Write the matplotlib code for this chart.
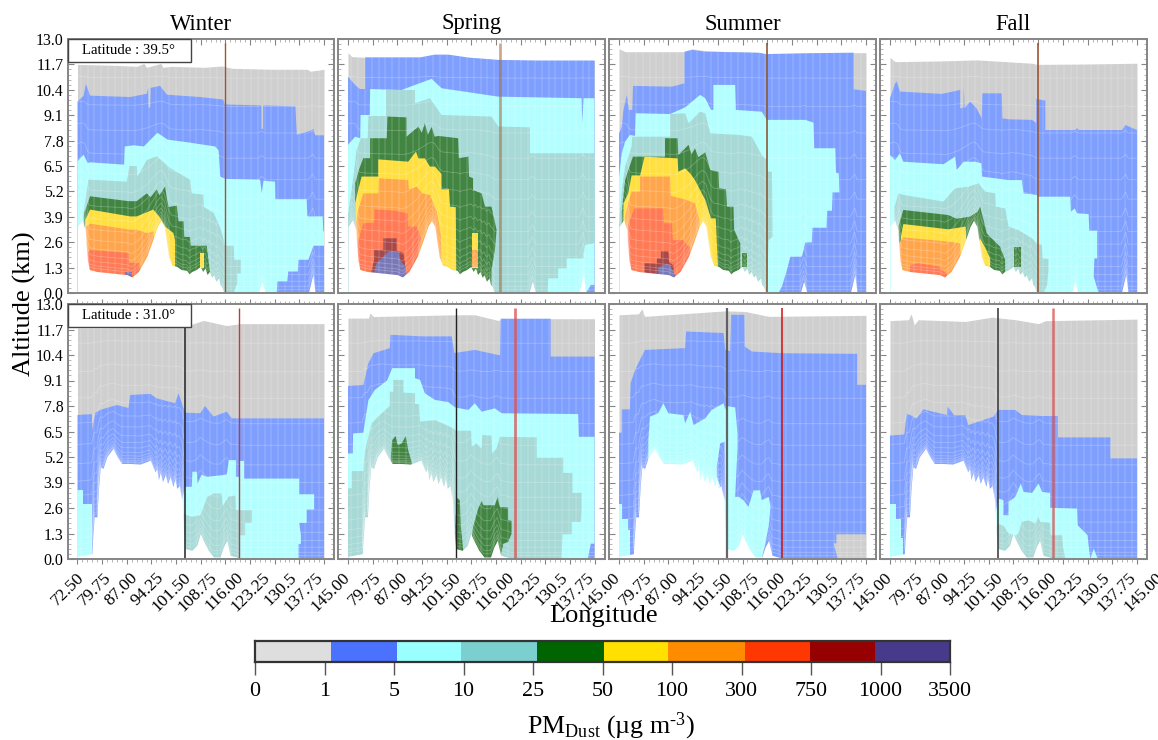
import numpy as np
import matplotlib
matplotlib.use("Agg")
import matplotlib.pyplot as plt
from matplotlib.patches import Rectangle

plt.rcParams['font.family'] = ['Liberation Serif', 'DejaVu Serif']
plt.rcParams['mathtext.fontset'] = 'custom'
plt.rcParams['mathtext.rm'] = 'Liberation Serif'
plt.rcParams['mathtext.it'] = 'Liberation Serif:italic'

SEASONS = ['Winter', 'Spring', 'Summer', 'Fall']
LON_TICKS = [72.5, 79.75, 87.0, 94.25, 101.5, 108.75, 116.0, 123.25, 130.5, 137.75, 145.0]
LON_LABELS = ['72.50', '79.75', '87.00', '94.25', '101.50', '108.75', '116.00', '123.25', '130.5', '137.75', '145.00']
ALT_TICKS = [0.0, 1.3, 2.6, 3.9, 5.2, 6.5, 7.8, 9.1, 10.4, 11.7, 13.0]
CB_LABELS = ['0', '1', '5', '10', '25', '50', '100', '300', '750', '1000', '3500']
CB_EDGES = [0, 1.09, 2.04, 2.96, 4.06, 5.02, 5.94, 7.05, 7.99, 8.92, 10]
CB_COLORS = ['#dedede', '#4a72ff', '#99ffff', '#7ccfcf', '#006400', '#ffe000', '#ff8c00', '#ff3700', '#960000', '#483a8a']
FADED = {'gray': '#cfcfcf', 'blue': '#7f9fff', 'cyan': '#b3ffff', 'teal': '#a7d9d6', 'green': '#428542',
         'yellow': '#ffe040', 'orange': '#ffa64d', 'red': '#ff7a55', 'dark': '#a84848', 'purple': '#7a78b8'}
LEVELS = [.17, .34, .6, .94, 1.36, 1.88, 2.5, 3.15, 3.9, 4.8, 5.8, 6.9, 8.19, 9.55, 11.0]

TERRAIN_39 = [(72.5,3.41),(73.8,3.75),(74.8,3.24),(75,2.56),(75.4,1.7),(76,1.2),(78.2,1.1),(87,.94),(88.5,.82),(90.4,1.1),
              (92.9,1.88),(95,2.9),(96,3.41),(97,3.72),(98,3.41),(99.3,1.88),(100.3,1.42),(101.7,1.36),(103,1.2),(104.6,1.16),
              (105.3,.98),(106.1,1.1),(107.4,1.2),(108.6,1.36),(109.3,1.1),(110,1.28),(110.6,.95),(111.3,1.1),(112,.8),(112.5,.94),(113.2,.6),(114,.77),(114.4,.45),(114.9,.34),(115.6,0),(125.7,0),
              (126.7,.6),(127.7,0),(140.4,0),(141.7,.94),(142.4,0),(145,0)]
TERRAIN_31 = [(72.5,.14),(76.7,.27),(76.9,.95),(77.4,2.15),(78.2,2.15),(78.7,3.68),(79.2,4.7),(80,4.62),(81.1,5.21),
              (82.9,5.64),(84.2,5.21),(85.5,4.87),(88,4.87),(90.9,4.84),(93.9,5.04),(94.7,4.7),(95.3,4.45),(95.8,4.6),(96.3,4.05),(96.8,4.4),(97.5,3.95),(98.3,4.3),
              (99,3.85),(99.7,4.2),(100.6,3.7),(101.1,4.1),(101.7,3.6),(102.4,3.75),(103.2,3),(103.7,1.3),(104.2,.53),(106.1,.44),(107.6,.7),(108.6,1.3),(109.5,.95),
              (111,.44),(112.5,.1),(114.4,.1),(115.4,.61),(116.4,.95),(117.4,.19),(119.3,.1),(120.3,0),(145,0)]

# ---------- Winter, 39.5N ----------
W39_TOP = [(72.5,11.7),(84,11.65),(90,11.6),(92,11.75),(92.8,11.55),(95,11.65),(97,11.75),(97.6,11.55),(100,11.6),(110,11.55),(115,11.62),(118,11.5),(130,11.45),(140,11.45),(141,11.35),(145,11.45)]
W39_BLUE = [(72.5,9.8),(74.3,10.1),(75,10.7),(76.2,10.1),(88,10.03),(92.9,10.2),(93.3,10.5),(93.4,9.5),(93.9,9.5),(94,10.5),(96.8,10.6),(98.8,10.15),(108.6,10.03),
            (115.4,9.9),(115.8,9.65),(126.6,9.6),(126.6,8.4),(127.1,8.4),(127.1,9.6),(136.6,9.55),(137,8.1),(140.9,8.3),(141.9,8.4),(142.4,8.07),(145,8.07),(145,0),(72.5,0)]
W39_CYAN = [(72.5,6.74),(74.3,7.08),(75.5,6.65),(76.2,6.69),(86.2,6.57),(86.4,7.5),(89,7.56),(92,7.5),(96,8.2),(99,7.85),(105,7.71),(113,7.5),(114,7.3),
            (114.5,5.95),(116,5.84),(126.2,5.8),(126.7,5.12),(127.2,5.75),(130.6,5.7),(130.7,4.8),(139.9,4.8),(140.1,3.92),(144.6,3.92),(144.8,3.15),(145,3.15),
            (145,2.42),(141.9,2.42),(140.4,1.7),(137.5,1.7),(137.3,1.1),(134.5,1.1),(134.2,.6),(131.3,.6),(131.1,0),(72.5,0)]
W39_TEAL = [(74.1,3.9),(75.7,5.8),(87,5.7),(87.8,6.5),(89.9,6.5),(90.1,5.95),(92.9,6.8),(95.8,7),(99.7,6.4),(105.6,5.8),(106.1,5.1),(109.5,5.03),(109.7,4.4),
            (112.5,4.1),(114.4,3.4),(115.6,2.65),(115.8,2.42),(118.4,2.42),(118.6,1.7),(120.5,1.7),(120.5,1),(119.5,1),(119.5,.5),(118.4,0),(74.1,0)]
W39_GREEN = [(74.5,4.1),(76.2,4.95),(87.5,4.7),(89.9,4.7),(92.9,5.1),(94,4.9),(95.8,5.3),(96.6,5),(98.3,5.46),(98.8,4.8),(99.3,4.4),(101.7,4.47),(102.2,3.67),(103.7,3.67),
             (103.9,2.87),(105.6,2.87),(105.8,2.42),(110.5,2.42),(111,1.7),(111.5,1.1),(111.5,0),(74.5,0)]
W39_YELLOW = [(74.8,3.75),(76.2,4.27),(88,3.92),(89.9,3.92),(94.8,4.27),(96.6,3.9),(98.3,3.4),(100.7,3.07),(101.2,2.7),(101.2,0),(74.8,0)]
W39_YELLOW2 = [(108.6,2.05),(109.7,2.05),(109.7,1.3),(108.6,1.3)]
W39_ORANGE = [(75,3.4),(76.2,3.55),(88,3.24),(89.9,3.24),(92.9,3.07),(95,3.15),(95,0),(75,0)]
W39_RED = [(75.4,2.05),(76.2,2.2),(87.5,2.05),(87.7,1.54),(90.7,1.54),(91,1),(91,0),(75.4,0)]
W39_PURPLE = [(86.5,1.1),(88.5,1.1),(88.5,0),(86.5,0)]

# ---------- Spring, 39.5N ----------
S39_TOP = [(72.5,12.3),(73.6,12.1),(77.5,12.06),(93.7,12.06),(98,12.2),(102,12.2),(107.9,12.05),(116.7,11.93),(128,11.9),(145,11.9)]
S39_BLUE = [(72.5,11.07),(74.6,10.65),(76,10.44),(77.5,10.44),(77.5,12.06),(93.7,12.06),(98,12.2),(102,12.2),(107.9,12.05),(116.7,11.93),(128,11.9),(145,11.9),(145,0),(72.5,0)]
S39_CYAN = [(72.5,7.58),(74.6,8),(76.1,7.92),(76.2,9.11),(78.9,9.11),(79,10.44),(88.3,10.39),(92.2,10.65),(97.1,10.96),(100,10.48),(116.7,10.05),(141.2,9.97),
            (141.4,8.69),(141.8,9.97),(145,9.97),(145,.41),(143.9,.41),(142.5,0),(72.5,0)]
S39_TEAL = [(72.5,3.99),(74.1,5.96),(75,7.32),(76.3,7.92),(78.3,7.92),(78.5,9.06),(83.7,9.06),(83.7,10.39),(92.2,10.39),(92.2,9.71),(96.6,9.97),(100,9.11),(114.7,9.03),
            (116.7,8.52),(126,8.48),(126,7.15),(145,7.15),(145,2.54),(142.2,2.46),(141.7,1.77),(136.8,1.77),(136.8,1.26),(134.3,1.26),(134.3,.75),(131.4,.75),(131.2,0),(72.5,0)]
S39_GREEN = [(74.6,5.6),(75.7,6.3),(77,6.9),(79,6.9),(79,7.92),(83.9,7.92),(84.1,9.03),(89.7,8.99),(89.7,8),(93.2,8.52),(94.2,8.2),(95.1,8.69),(96,8.1),(97.1,8.5),(98,8),(99.1,8.04),(104.9,7.92),
             (105.1,6.9),(107.9,6.98),(108.1,5.96),(109.3,5.87),(109.3,5.27),(111.8,5.1),(112.8,4.42),(114.7,4.42),(116.2,3.23),(115.7,2.2),(114.7,1.18),(114.7,0),(74.6,0)]
S39_YELLOW = [(74.6,4.59),(75.5,5.27),(76.5,5.96),(81.4,5.96),(81.4,6.84),(90.2,6.72),(92.5,7.24),(93.2,6.89),(95.1,6.89),(96.6,6.47),(98.1,6.47),(100,6.09),(100,5.31),
              (102.2,5.31),(102.5,4.42),(104.2,4.39),(104.4,0),(74.6,0)]
S39_YELLOW2 = [(108.9,3.09),(110.8,3.09),(110.8,1.26),(108.9,1.26)]
S39_ORANGE = [(74.8,3.57),(75.5,4.25),(77,5.1),(81.4,5.1),(81.6,5.87),(90.2,5.78),(90.4,5.31),(92.7,5.44),(94.4,5.1),(96.6,5.02),(98.6,4.16),(99.8,3.05),(100.2,0),(74.8,0)]
S39_ORANGE2 = [(109.1,2.2),(110.6,2.2),(110.6,1.35),(109.1,1.35)]
S39_RED = [(75.3,2.54),(77,3.57),(80.2,3.6),(80.3,4.28),(86.3,4.21),(90,4.08),(90.1,3.4),(92.7,3.4),(94,2.8),(93.2,2.03),(92.2,1.52),(90.7,0),(75.3,0)]
S39_DARK = [(79.3,1.09),(80.2,1.7),(80.2,2.2),(82.9,2.2),(82.9,2.8),(86.8,2.8),(86.8,2.17),(88.8,2.06),(89.8,.84),(79.3,0)]
S39_PURPLE = [(80.2,1.09),(80.9,1.52),(82.4,1.77),(84.4,2.12),(87.3,2.12),(87.8,1.69),(89.3,1.35),(90,.75),(90,0),(80.2,0)]

# ---------- Summer, 39.5N ----------
U39_TOP = [(72.5,12.5),(74.3,12.35),(91.9,12.35),(93.9,12.5),(97.8,12.4),(113.5,12.3),(115.6,12.23),(127.2,12.27),(141.4,12.3),(145,12.3)]
U39_BLUE = [(72.5,8.17),(73.3,8.5),(73.8,9.37),(74.8,10.14),(75.4,9.37),(76.4,9.37),(76.6,10.6),(88,10.56),(91.7,10.73),(91.7,12.35),(93.9,12.44),(97.8,12.35),
            (113.5,12.3),(115.6,12.23),(127.2,12.27),(141.4,12.3),(141.4,10.43),(145,10.34),(145,0),(72.5,0)]
U39_CYAN = [(72.5,5.96),(73.3,7.15),(74.3,7.75),(75.7,8.09),(77.2,8.04),(77.4,9.2),(87.5,9.16),(91.9,9.5),(96.3,10.14),(97.8,9.97),(99.5,9.37),(100.2,9.37),(100.2,10.65),
            (106.6,10.65),(106.8,9.37),(114.4,9.28),(115.9,8.86),(127.2,8.86),(129.6,8.72),(129.8,7.41),(136,7.41),(136.2,6.16),(137,6.13),(137.2,5.15),(135.2,5.15),
            (135,4.21),(133.6,4.21),(133.4,3.34),(129.3,3.34),(129.1,2.59),(127.2,2.59),(126.2,1.86),(122.8,1.86),(121.8,1.18),(120.3,.32),(119.3,0),(72.5,0)]
U39_TEAL = [(72.5,3.48),(73.3,5.27),(74.3,6.47),(76.2,7.5),(76.4,8),(87.5,8),(87.5,9.16),(91.9,9.2),(92.9,8.69),(96.3,9.28),(97.8,9.2),(99.3,8.17),(107.6,8.09),(111.5,8),
            (114.4,7.06),(115.9,6.81),(116.1,6.21),(117.4,6.21),(117.6,2.88),(116.4,2.71),(115.9,0),(72.5,0)]
U39_GREEN = [(73.3,4.16),(74.3,5.78),(75.4,6.38),(76.6,6.98),(86,6.98),(86,7.92),(89.7,7.92),(89.9,7.06),(92.9,7.58),(93.8,7.1),(94.8,7.4),(95.8,6.95),(97.8,7.2),(99.3,6.3),(101.7,6.21),
             (101.9,5.36),(103.9,5.31),(104.2,4.42),(106.1,4.42),(106.3,3.23),(108.1,2.54),(108.1,0),(73.3,0)]
U39_GREEN2 = [(108.6,2.06),(110,2.06),(110,1.35),(108.6,1.35)]
U39_YELLOW = [(73.8,4.59),(75.2,5.1),(76.2,6.02),(78.7,6.02),(80,6.98),(89.7,6.89),(89.9,6.21),(91.9,6.38),(93.4,6.12),(94.8,5.78),(97.8,4.76),(99.5,3.82),(100.9,3.82),
              (101.5,1.52),(101.5,0),(73.8,0)]
U39_ORANGE = [(74.3,3.91),(75.2,4.6),(76.2,5.19),(78.7,5.19),(78.7,5.96),(87.5,5.96),(87.7,4.97),(92.4,4.76),(94.8,4.59),(96.1,3.74),(96.1,0),(74.3,0)]
U39_RED = [(75,3.4),(77,4.33),(85.5,4.33),(85.7,3.57),(88,3.57),(88.3,2.71),(91.4,2.71),(92.4,2.46),(93.4,2.37),(93.4,0),(75,0)]
U39_DARK = [(80,1.52),(83.6,1.52),(83.6,1.77),(84.8,1.77),(84.8,2.15),(87,2.15),(87.2,1.6),(88.5,1.4),(88.5,0),(80,0)]
U39_PURPLE = [(84,1.3),(86.5,1.5),(87.5,1.4),(89,.9),(89,0),(84,0)]

# ---------- Fall, 39.5N ----------
F39_TOP = [(72.5,12.06),(74,11.84),(88,11.88),(98,11.93),(114.2,11.76),(115.6,11.7),(130,11.72),(145,11.76)]
F39_BLUE = [(72.5,9.97),(74,10.73),(74.5,10.82),(75.4,10.31),(87.7,10.19),(93.1,10.39),(93.1,9.45),(94.1,9.5),(94.1,10.6),(94.4,9.45),(96,9.8),(97.9,9.45),(99.4,8.94),
            (99.6,10.22),(105.3,10.22),(105.5,8.94),(107.3,8.89),(114.2,8.86),(115.4,8.7),(115.4,9.93),(118.1,9.85),(118.1,8.34),(126.9,8.34),(127.4,8.45),(127.9,8.34),
            (140.6,8.34),(141.6,8.6),(145,8.34),(145,0),(72.5,0)]
F39_CYAN = [(72.5,7.06),(74,6.81),(75.4,7.15),(76.4,6.72),(88.2,6.59),(91.6,6.98),(92.1,6.3),(94.1,6.72),(97.5,6.72),(99.3,6.64),(99.5,5.96),(107.3,5.78),(111.2,5.78),
            (111.7,5.1),(115.6,5.02),(115.8,4.93),(125.4,4.93),(125.6,4.16),(126.7,4.33),(127.4,4.08),(130.8,4.04),(131,3.19),(133.3,3.19),(133.3,1.77),(132.5,1.77),
            (132.3,.84),(133.3,.24),(133.8,0),(72.5,0)]
F39_TEAL = [(73.8,4.42),(75,5.1),(76.4,5.02),(88.2,4.68),(91.6,5.36),(95.5,5.44),(98.5,5.61),(100.4,5.19),(103.4,5.1),(103.6,4.42),(106.3,4.33),(107.3,3.4),(110.2,3.23),
            (114.2,2.8),(115.6,2.54),(117.1,2.46),(117.3,1.77),(119,1.74),(119,1.18),(118.6,.41),(117.6,0),(73.8,0)]
F39_GREEN = [(74.95,3.4),(76.4,4.25),(89.6,3.99),(92.1,3.8),(96,3.91),(98.2,4.16),(99,4.42),(100.9,3.05),(104.8,2.37),(106.3,1.69),(106.3,0),(74.95,0)]
F39_GREEN2 = [(108.8,2.37),(110.9,2.37),(110.9,1.35),(108.8,1.35)]
F39_YELLOW = [(75.7,2.88),(76.4,3.53),(89.6,3.26),(94.7,3.4),(95,2.5),(98.5,2.5),(98.9,2.8),(100.4,2.35),(101.9,1.77),(101.9,0),(75.7,0)]
F39_ORANGE = [(75.1,2.54),(76.4,2.85),(89.6,2.63),(93.1,2.54),(93.5,1),(93.5,0),(75.1,0)]
F39_RED = [(78.4,1.43),(80.8,1.52),(86.7,1.35),(89.2,1),(89.5,0),(78.4,0)]

# ---------- Winter, 31N ----------
W31_TOP = [(72.5,11.77),(79.2,11.77),(104,11.85),(109.5,12.16),(116.4,11.9),(120.3,12),(145,12)]
W31_BLUE = [(72.5,7.34),(76.7,7.39),(76.9,6.58),(77.7,7.45),(79.2,7.6),(84,7.85),(87.5,7.7),(88,8.36),(93.9,8.42),(95.8,8.19),(101.2,7.94),(102.2,8.45),(103.7,7.68),
            (104.2,7.46),(108.6,7.43),(110,7.8),(112.5,7.26),(116.4,7.51),(117.9,7.17),(145,7.17),(145,0),(72.5,0)]
W31_CYAN = [(72.5,3.51),(74,3.51),(74,2.79),(76.7,2.79),(76.7,0),(72.5,0)]
W31_CYAN2 = [(103.2,3),(104.2,3.68),(106.1,3.68),(106.3,4.45),(107.6,4.45),(107.8,3.85),(109,4.3),(110.5,4.19),(116.4,4.3),(117,5.04),(119.1,5.04),(119.1,4.19),(120.1,4.19),
             (120.1,5),(121.5,5),(121.5,4.1),(137.7,4.1),(137.7,3.3),(142.1,3.3),(142.1,2.52),(139.9,2.52),(139.9,1.84),(137.7,1.84),(138.2,1.21),(138.2,.78),(137.5,.75),(137.5,0),(103.2,0)]
W31_TEAL = [(103.7,2.32),(106.1,2.15),(108.6,2.23),(110.7,3.17),(112.5,3.34),(114.9,3.34),(115.2,2.7),(116.9,3.17),(118.9,3.25),(119.1,2.49),(123.8,2.49),(123.8,1.84),
            (121.8,1.84),(121.8,1.21),(120.3,1.21),(120.3,0),(103.7,0)]

# ---------- Spring, 31N ----------
S31_TOP = [(72.5,12.28),(78.5,12.28),(79,12.54),(80,12.36),(104,12.45),(109.8,12.45),(116.7,12.16),(117.7,12.25),(145,12.25)]
S31_BLUE = [(72.5,8.82),(77,8.87),(78.5,9.98),(80,10.49),(84.8,10.75),(85,11.43),(94.2,11.35),(103,11.35),(103.8,10.5),(109.8,10.66),(116.7,10.4),(117.2,10.4),(117.4,12.25),
            (132.1,12.25),(132.1,10.32),(145,10.32),(145,0),(72.5,0)]
S31_CYAN = [(72.5,5.38),(73.9,5.38),(74,6.4),(77,6.44),(78.5,8.1),(80.4,8.62),(84,9.1),(85.5,9.73),(92.2,9.73),(92.2,9.22),(93.7,9.13),(95.1,8.45),(98.1,8.11),(102,8),(104,7.73),
            (107.9,7.6),(109.8,7.94),(111.8,7.51),(115.7,7.68),(117.7,7.43),(140.2,7.39),(140.4,6.23),(145,6.23),(145,.78),(143.9,.78),(143,0),(72.5,0)]
S31_TEAL = [(72.5,3.59),(73.6,3.62),(73.6,4.48),(77,4.48),(77.5,5.55),(79.5,6.92),(82.4,7.43),(84.8,7.8),(84.8,8.53),(85.8,8.53),(85.8,9.13),(88.8,9.13),(88.8,8.48),(92.2,8.45),
            (92.2,7.9),(93.4,7.9),(93.7,7),(98.1,7.09),(103.5,6.66),(104.2,6.54),(108.7,6.54),(108.9,5.72),(110.3,5.89),(111.8,5.62),(112,6.32),(114.7,6.29),(114.9,5.38),(116.2,5.64),
            (117.2,6.23),(128,6.2),(128,5.16),(135.8,5.16),(135.8,4.39),(138.5,4.39),(138.5,3.37),(141.2,3.37),(141.2,2.57),(141,1.89),(138.3,1.89),(138.3,1.26),(135.6,1.26),(135.3,0),(72.5,0)]
S31_GREEN = [(85.1,5.21),(85.5,6.06),(86.5,6.27),(87.1,5.81),(88.3,5.89),(89.5,6.27),(90.2,5.55),(91.2,4.96),(91.2,0),(85.1,0)]
S31_GREEN2 = [(104,1.64),(104.5,3.13),(105.4,3),(105.7,1.64),(106.4,.44),(106.4,0),(104,0)]
S31_GREEN3 = [(108.4,.44),(109.3,1.64),(110.8,2.57),(111.8,2.96),(112.3,2.74),(115.7,2.74),(116.5,3.17),(117.2,2.66),(119.6,2.62),(119.6,1.98),(120.6,1.94),(120.6,1.29),(119.6,.87),(118.2,.78),(117.2,0),(108.4,0)]

# ---------- Summer, 31N ----------
U31_TOP = [(72.5,12.45),(78.2,12.5),(79.2,12.75),(80,12.37),(103.7,12.65),(109.5,12.62),(116.4,12.37),(145,12.42)]
U31_BLUE = [(72.5,6.44),(73.3,6.44),(73.3,7.63),(75.7,7.63),(75.9,8.96),(77.2,9.64),(80.1,10.66),(91.9,10.75),(92.2,11.6),(103.2,11.52),(103.7,10.66),(105.1,10.6),(105.4,12.45),
            (109.3,12.45),(109.4,10.83),(111.5,10.58),(120.3,10.49),(142.4,10.46),(142.4,8.88),(145,8.88),(145,0),(72.5,0)]
U31_GRAY2 = [(136.3,1.26),(145,1.26),(145,0),(136.7,0),(135.5,.8),(136.3,.8)]
U31_CYAN = [(72.5,2.79),(73.3,2.79),(73.3,2.06),(75.2,2.06),(75.2,1.47),(75.7,1.47),(75.7,0),(72.5,0)]
U31_CYAN2 = [(81.1,6.06),(81.6,7.26),(84,7.43),(85.5,7.94),(87,7.43),(91.4,7.34),(91.9,6.92),(93.4,7.51),(94.4,6.83),(97.8,7.17),(99.7,7.6),(103.2,7.94),(103.7,7.6),(103.9,7.8),
             (106.6,7.73),(107.3,6.4),(107.3,5.7),(106.6,3.17),(107.6,3.17),(109,3),(110.5,2.66),(112,3.5),(113.9,3.5),(114.4,3),(116.4,3.17),(117,2.66),(116.4,1.64),(115.4,.78),(114.4,0),(81.1,0)]
U31_BLUE2 = [(101.2,4.7),(102.2,5.89),(103.5,5.98),(103.7,3),(101.2,4.2)]

# ---------- Fall, 31N ----------
F31_TOP = [(72.5,12.15),(77.9,12.2),(78.7,12.5),(79.6,11.94),(80.8,12.2),(94.6,12.11),(102.4,12.33),(109.3,12.2),(116.1,12),(118.1,12.15),(145,12.23)]
F31_BLUE = [(72.5,6.29),(76.7,6.35),(77.4,7.43),(80.3,7.17),(82.3,7.63),(89.2,7.34),(89.4,7.77),(91.3,7.34),(94.6,7.34),(95.5,6.83),(102.9,7.26),(104.2,7.6),(109.3,7.6),(111.2,7.34),
            (117.1,7.29),(121.8,7.29),(121.8,6.2),(137.2,6.2),(137.2,5.13),(145,5.13),(145,0),(72.5,0)]
F31_CYAN = [(72.5,2.79),(74.2,2.79),(74.2,2.06),(75.7,2.06),(75.7,1.09),(76.4,1.09),(76.4,0),(72.5,0)]
F31_CYAN2 = [(103.4,2.32),(104.4,3.08),(105.8,3),(105.8,2.23),(107.3,2.23),(107.3,2.91),(109.3,3.17),(110.9,3.85),(111.7,3.42),(114.2,3.37),(116.1,3.85),(117.1,3.42),(119.5,3.37),
             (119.5,2.61),(127.4,2.57),(127.6,1.72),(130.5,1.21),(130.8,.7),(131.3,0),(103.4,0)]
F31_CYAN3 = [(131.3,0),(132.3,.53),(133.5,0)]
F31_TEAL = [(103.6,1.64),(104.4,1.8),(105.8,1.7),(107.3,1.3),(109.3,1.2),(110.2,1.3),(111.2,1.89),(113.2,1.98),(115.1,1.8),(116.1,2.15),(116.6,1.89),(119.5,1.84),(119.7,1.21),
            (123,1.21),(123.3,.61),(124,0),(103.6,0)]

ROW_39 = [
    (W39_TOP, [('blue',W39_BLUE),('cyan',W39_CYAN),('teal',W39_TEAL),('green',W39_GREEN),('yellow',W39_YELLOW),('yellow',W39_YELLOW2),('orange',W39_ORANGE),('red',W39_RED),('purple',W39_PURPLE)]),
    (S39_TOP, [('blue',S39_BLUE),('cyan',S39_CYAN),('teal',S39_TEAL),('green',S39_GREEN),('yellow',S39_YELLOW),('yellow',S39_YELLOW2),('orange',S39_ORANGE),('orange',S39_ORANGE2),('red',S39_RED),('dark',S39_DARK),('purple',S39_PURPLE)]),
    (U39_TOP, [('blue',U39_BLUE),('cyan',U39_CYAN),('teal',U39_TEAL),('green',U39_GREEN),('green',U39_GREEN2),('yellow',U39_YELLOW),('orange',U39_ORANGE),('red',U39_RED),('dark',U39_DARK),('purple',U39_PURPLE)]),
    (F39_TOP, [('blue',F39_BLUE),('cyan',F39_CYAN),('teal',F39_TEAL),('green',F39_GREEN),('green',F39_GREEN2),('yellow',F39_YELLOW),('orange',F39_ORANGE),('red',F39_RED)]),
]
ROW_31 = [
    (W31_TOP, [('blue',W31_BLUE),('cyan',W31_CYAN),('cyan',W31_CYAN2),('teal',W31_TEAL)]),
    (S31_TOP, [('blue',S31_BLUE),('cyan',S31_CYAN),('teal',S31_TEAL),('green',S31_GREEN),('green',S31_GREEN2),('green',S31_GREEN3)]),
    (U31_TOP, [('blue',U31_BLUE),('gray',U31_GRAY2),('cyan',U31_CYAN),('cyan',U31_CYAN2),('blue',U31_BLUE2)]),
    (F31_TOP, [('blue',F31_BLUE),('cyan',F31_CYAN),('cyan',F31_CYAN2),('cyan',F31_CYAN3),('teal',F31_TEAL)]),
]
# marker longitudes: (lon, colour, width, alpha)
MARKS_39 = [[(115.8,'#a0562d',1.0,1)], [(117.1,'#a5622f',2.0,.55)], [(115.9,'#8a5a35',1.2,1)], [(115.8,'#a0562d',1.2,1)]]
MARKS_31 = [[(104.25,'#222222',1.1,1),(120.1,'#c03c3c',1.0,1)],
            [(104.3,'#222222',1.0,1),(121.6,'#d94f4f',2.0,.75)],
            [(104.25,'#555555',1.6,.9),(120.2,'#d01010',1.1,1)],
            [(104.3,'#333333',1.1,1),(120.3,'#d94f4f',1.8,.75)]]

W, H = 1158, 740
fig = plt.figure(figsize=(W/100, H/100), dpi=100)
X_PX = [(67.5, 334), (338, 604.5), (609, 876), (880, 1147)]
Y_PX = [(39, 293), (304, 559)]
GRAY = '#858585'


def px_axes(x0, x1, y0, y1):
    return fig.add_axes([x0/W, 1-y1/H, (x1-x0)/W, (y1-y0)/H])


def draw_panel(ax, top, layers, terrain, marks):
    tx, ty = map(np.array, zip(*top))
    gx, gy = map(np.array, zip(*terrain))
    ax.fill_between(tx, 0, ty, color=FADED['gray'], lw=0, zorder=1)
    for key, pts in layers:
        xs, ys = zip(*pts)
        ax.fill(xs, ys, color=FADED[key], lw=0, zorder=2)
    # model-layer lines and column stripes that show through the shading
    grid = np.unique(np.r_[gx, tx])
    tg = np.interp(grid, gx, gy)
    for h in LEVELS:
        ax.plot(grid, h + tg*(1-h/13.0)**2, color='white', lw=.6, alpha=.24, zorder=3)
    stripes = np.arange(73.5, 145, 2.0)
    ax.vlines(stripes, 0, np.interp(stripes, tx, ty), color='white', lw=1.2, alpha=.13, zorder=3)
    ax.fill_between(gx, -0.1, gy, color='white', lw=0, zorder=4)
    for lon, c, lw, a in marks:
        ax.plot([lon, lon], [0, 12.8], color=c, lw=lw, alpha=a, zorder=5, solid_capstyle='butt')
    ax.set_xlim(69.56, 147.94)
    ax.set_ylim(0, 13)
    for s in ax.spines.values():
        s.set_color(GRAY)
        s.set_linewidth(1.4)
        s.set_zorder(8)


for r, (row, terrain, marks_row) in enumerate([(ROW_39, TERRAIN_39, MARKS_39), (ROW_31, TERRAIN_31, MARKS_31)]):
    y0, y1 = Y_PX[r]
    for c, (top, layers) in enumerate(row):
        x0, x1 = X_PX[c]
        ax = px_axes(x0, x1, y0, y1)
        draw_panel(ax, top, layers, terrain, marks_row[c])
        ax.set_yticks(ALT_TICKS)
        ax.set_yticks(np.arange(0, 13.01, .26), minor=True)
        ax.set_xticks(LON_TICKS)
        ax.set_xticks(np.arange(72.5, 145.01, 1.45), minor=True)
        ax.tick_params(axis='y', which='major', direction='in', left=True, right=True, length=4.5, width=.8, color=GRAY, pad=3, labelsize=11.4)
        ax.tick_params(axis='y', which='minor', direction='in', left=True, right=True, length=2.5, width=.6, color='#aaaaaa')
        if r == 0:
            ax.tick_params(axis='x', which='major', direction='in', top=True, bottom=False, length=4, width=.8, color=GRAY, labelbottom=False)
            ax.tick_params(axis='x', which='minor', direction='in', top=True, bottom=False, length=2.2, width=.6, color='#aaaaaa')
            ax.text((x0+x1)/2/W, 1-24/H, SEASONS[c], transform=fig.transFigure, ha='center', va='center', fontsize=16.3)
        else:
            ax.tick_params(axis='x', which='major', direction='out', top=True, bottom=True, length=3.5, width=.8, color=GRAY, labelbottom=False)
            ax.tick_params(axis='x', which='minor', direction='out', bottom=True, length=2, width=.6, color='#aaaaaa')
            ax.tick_params(axis='x', which='minor', top=True)
            for i, (lon, lab) in enumerate(zip(LON_TICKS, LON_LABELS)):
                if c > 0 and i == 0:
                    continue
                dx = (-1 + 1.9*i)*.72
                ax.annotate(lab, xy=(lon, 0), xycoords='data', xytext=(dx, -7.5), textcoords='offset points',
                            rotation=45, ha='right', va='top', rotation_mode='anchor', fontsize=12.6, annotation_clip=False)
        if c != 0:
            ax.tick_params(axis='y', which='both', labelleft=False)
        if c == 0:
            ax.add_patch(Rectangle((0, 1-23/254), 123/266.5, 23/254, transform=ax.transAxes, fc='white', ec='#444444', lw=1, zorder=9, clip_on=False))
            ax.text(61.5/266.5, 1-11.5/254, 'Latitude : %s°' % ('39.5' if r == 0 else '31.0'), transform=ax.transAxes,
                    ha='center', va='center', fontsize=10.7, zorder=10)

fig.text(24/W, 1-304/H, 'Altitude (km)', rotation=90, ha='center', va='center', fontsize=19)
fig.text(604/W, 1-616/H, 'Longitude', ha='center', va='center', fontsize=19)

cax = px_axes(255, 950, 641, 662)
for i, col in enumerate(CB_COLORS):
    cax.bar(CB_EDGES[i], 1, width=CB_EDGES[i+1]-CB_EDGES[i], align='edge', color=col, lw=0)
cax.set_xlim(0, 10)
cax.set_ylim(0, 1)
cax.set_yticks([])
cax.set_xticks(range(11))
cax.set_xticklabels(CB_LABELS, fontsize=15.8)
cax.tick_params(axis='x', direction='out', length=9.5, width=1, color='#555555', pad=5)
for s in cax.spines.values():
    s.set_color('#333333')
    s.set_linewidth(1.6)
fig.text(611/W, 1-726/H, r'PM$_{\mathrm{Dust}}$ (µg m$^{\text{-3}}$)', ha='center', va='center', fontsize=18.7)

fig.savefig('out.png', dpi=100)
